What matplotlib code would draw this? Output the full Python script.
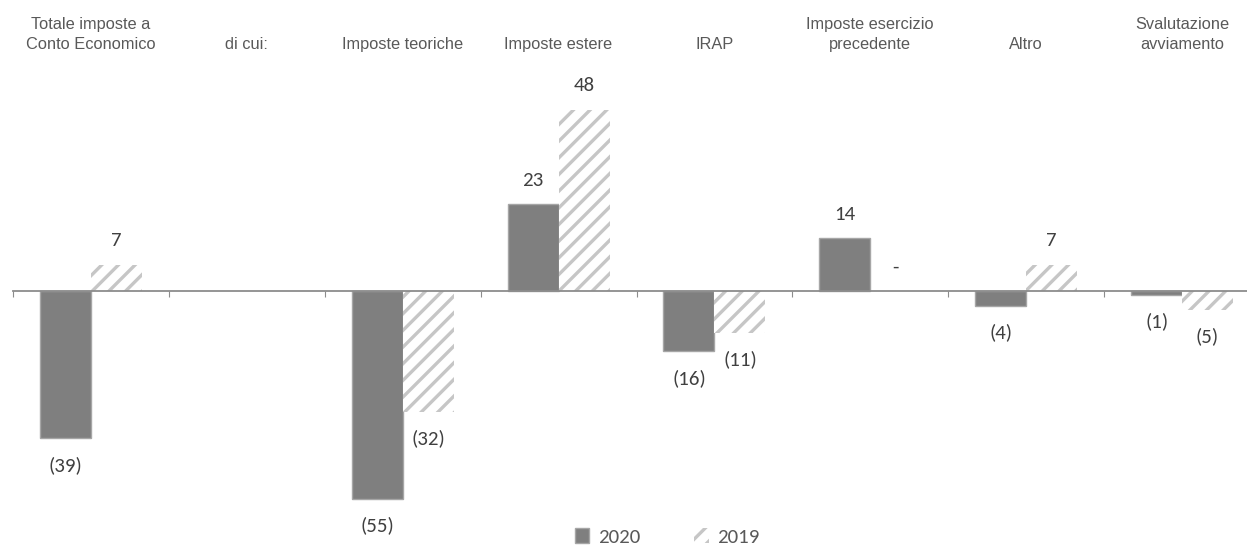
import numpy as np
import matplotlib
matplotlib.use("Agg")
import matplotlib.pyplot as plt
from matplotlib.patches import Patch

# Data
categories = ["Totale imposte a\nConto Economico", "di cui:", "Imposte teoriche",
              "Imposte estere", "IRAP", "Imposte esercizio\nprecedente", "Altro",
              "Svalutazione\navviamento"]
values_2020 = [-39, None, -55, 23, -16, 14, -4, -1]
values_2019 = [7, None, -32, 48, -11, 0, 7, -5]
series_names = ["2020", "2019"]

plt.rcParams['hatch.linewidth'] = 2.4
num_font = ['Carlito', 'Lato', 'DejaVu Sans']

fig = plt.figure(figsize=(12.47, 5.45), dpi=100)
ax = fig.add_axes([13 / 1247, 0.0083, 1.0, 0.8392])

x = np.arange(len(categories))
bw = 0.327

def fmt(v):
    if v == 0:
        return "-"
    return str(v) if v > 0 else f"({-v})"

for vals, off, style in [(values_2020, -bw / 2, 'solid'), (values_2019, bw / 2, 'hatch')]:
    for xi, v in zip(x, vals):
        if v is None:
            continue
        if style == 'solid':
            ax.bar(xi + off, v, bw, color='#7f7f7f', edgecolor='#a6a6a6', linewidth=1)
        else:
            ax.bar(xi + off, v, bw, color='white', edgecolor='#c6c6c6', linewidth=0, hatch='//')
        dy = 17 if v >= 0 else -19
        ax.annotate(fmt(v), (xi + off, v), xytext=(0, dy), textcoords='offset points',
                    ha='center', va='center', fontsize=15, color='#404040', family=num_font)

ax.set_xlim(-0.5, 7.5)
ax.set_ylim(-66, 55)
for s in ['top', 'left', 'right']:
    ax.spines[s].set_visible(False)
ax.spines['bottom'].set_position(('data', 0))
ax.spines['bottom'].set_color('#8c8c8c')
ax.spines['bottom'].set_linewidth(1.3)
ax.set_xticks(np.arange(-0.5, 8, 1))
ax.tick_params(axis='x', direction='out', length=4, color='#8c8c8c', labelbottom=False)
ax.set_yticks([])

# category labels on top
trans = matplotlib.transforms.blended_transform_factory(ax.transData, fig.transFigure)
for xi, lab in zip(x, categories):
    ax.text(xi, 0.905, lab, transform=trans, ha='center', va='bottom', fontsize=11.8,
            color='#595959', family='Liberation Sans', linespacing=1.4)

handles = [Patch(facecolor='#7f7f7f', edgecolor='#a6a6a6'),
           Patch(facecolor='white', edgecolor='#c6c6c6', hatch='//', linewidth=0)]
fig.legend(handles, series_names, loc='center', bbox_to_anchor=(0.535, 0.0147), ncol=2,
           frameon=False, handlelength=0.7, handleheight=0.7, handletextpad=0.4,
           columnspacing=2.6, prop={'family': num_font, 'size': 15}, labelcolor='#595959')

fig.savefig("out.png", dpi=100)
